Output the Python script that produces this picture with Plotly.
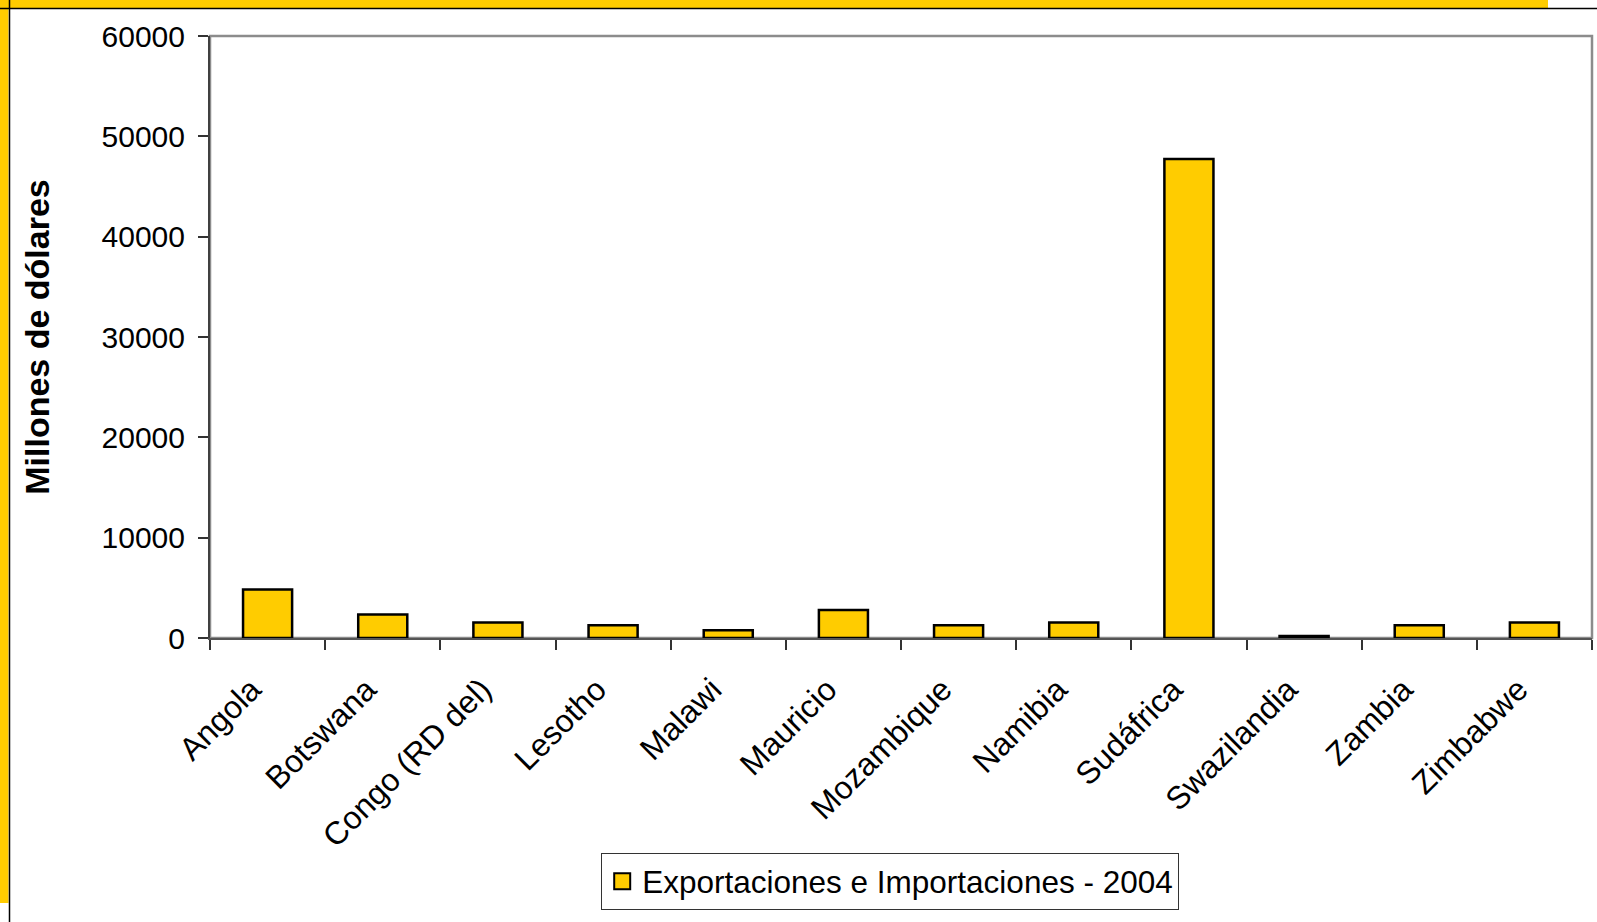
import plotly.graph_objects as go

paises = ['Angola', 'Botswana', 'Congo (RD del)', 'Lesotho', 'Malawi', 'Mauricio',
          'Mozambique', 'Namibia', 'Sudáfrica', 'Swazilandia', 'Zambia', 'Zimbabwe']
comercio_2004 = [4830, 2330, 1540, 1260, 770, 2790, 1260, 1540, 47730, 200, 1260, 1540]
y_ticks = [0, 10000, 20000, 30000, 40000, 50000, 60000]

serie = 'Exportaciones e Importaciones - 2004'
amarillo = '#FFCC00'

W, H = 1597, 922
# plot area in pixels
L, R, T, B = 210, 1592, 36, 638


def px_x(p):
    return (p - L) / (R - L)


def px_y(p):
    return (B - p) / (B - T)


fig = go.Figure()
fig.add_trace(go.Bar(
    x=paises, y=comercio_2004, name=serie,
    marker=dict(color=amarillo, line=dict(color='black', width=2.5)),
    showlegend=False,
))
# legend entry only (bigger square swatch than the bar default)
fig.add_trace(go.Scatter(
    x=[None], y=[None], mode='markers', name=serie,
    marker=dict(symbol='square', size=16, color=amarillo,
                line=dict(color='black', width=2)),
))

font = 'Liberation Sans, Arial, sans-serif'

shapes = [
    # plot frame
    dict(type='rect', xref='paper', yref='paper', x0=0, x1=1, y0=0, y1=1,
         line=dict(color='#8c8c8c', width=2.5), layer='below'),
    # slide decoration: yellow bands and black rules
    dict(type='rect', xref='paper', yref='paper', x0=px_x(0), x1=px_x(1548),
         y0=px_y(8), y1=px_y(0), fillcolor=amarillo, line=dict(width=0)),
    dict(type='rect', xref='paper', yref='paper', x0=px_x(0), x1=px_x(8.5),
         y0=px_y(903), y1=px_y(0), fillcolor=amarillo, line=dict(width=0)),
    dict(type='line', xref='paper', yref='paper', x0=px_x(0), x1=px_x(W),
         y0=px_y(8.5), y1=px_y(8.5), line=dict(color='black', width=1.5)),
    dict(type='line', xref='paper', yref='paper', x0=px_x(9.5), x1=px_x(9.5),
         y0=px_y(0), y1=px_y(H), line=dict(color='black', width=1.5)),
]

fig.update_layout(
    width=W, height=H,
    margin=dict(l=L, r=W - R, t=T, b=H - B, autoexpand=False),
    paper_bgcolor='white', plot_bgcolor='white',
    font=dict(family=font, color='black', size=30),
    bargap=0.574,
    shapes=shapes,
    legend=dict(
        x=px_x(890), y=px_y(853), xanchor='center', yanchor='top',
        orientation='h', bordercolor='#333', borderwidth=1.2,
        font=dict(size=31.5), bgcolor='white',
    ),
)

fig.update_xaxes(
    type='category', tickangle=-45, tickson='boundaries',
    ticks='outside', ticklen=10, tickcolor='#333', tickwidth=1.5,
    showline=True, linecolor='#555', linewidth=2,
    tickfont=dict(size=32), ticklabelshift=-16, ticklabelstandoff=18,
    showgrid=False, automargin=False,
)
fig.update_yaxes(
    range=[0, 60000], tickvals=y_ticks, ticktext=[str(v) for v in y_ticks],
    ticks='outside', ticklen=10, tickcolor='#333', tickwidth=1.5,
    showline=True, linecolor='#404040', linewidth=2,
    tickfont=dict(size=30), ticklabelstandoff=7,
    showgrid=False, zeroline=False, automargin=False,
    title=dict(text='<b>Millones de dólares</b>', font=dict(size=34), standoff=42),
)

fig.write_html('out.html', config={'displayModeBar': False},
               post_script="document.body.style.margin='0';document.body.style.overflow='hidden';")
